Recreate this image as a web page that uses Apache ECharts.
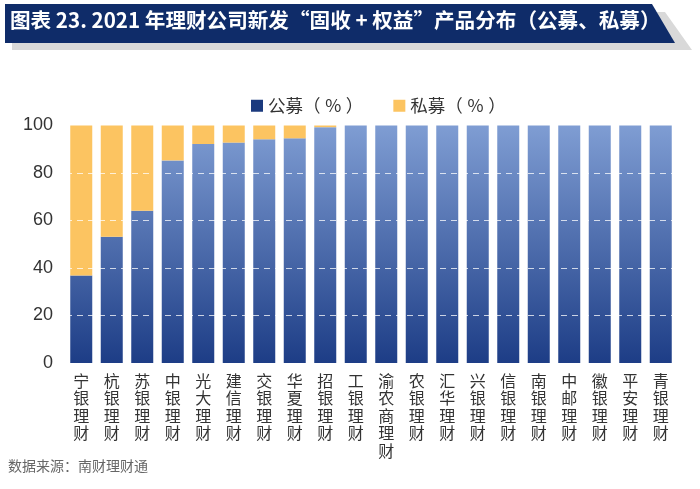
<!DOCTYPE html>
<html>
<head>
<meta charset="utf-8">
<script src="https://cdn.jsdelivr.net/npm/echarts@6/dist/echarts.min.js"></script>
<style>
html,body{margin:0;padding:0;background:#fff;}
#c{width:700px;height:489px;}
</style>
</head>
<body>
<div id="c"></div>
<script>
const categories = ['宁银理财','杭银理财','苏银理财','中银理财','光大理财','建信理财','交银理财','华夏理财','招银理财','工银理财','渝农商理财','农银理财','汇华理财','兴银理财','信银理财','南银理财','中邮理财','徽银理财','平安理财','青银理财'];
const publicPct  = [36.8, 53.2, 64.1, 85.3, 92.2, 92.8, 94.2, 94.6, 99.3, 100, 100, 100, 100, 100, 100, 100, 100, 100, 100, 100];
const privatePct = [63.2, 46.8, 35.9, 14.7, 7.8, 7.2, 5.8, 5.4, 0.7, 0, 0, 0, 0, 0, 0, 0, 0, 0, 0, 0];
const yTicks = [0, 20, 40, 60, 80, 100];
const seriesNames = ['公募（ ％ ）', '私募（ ％ ）'];
const titleText = '图表 23. 2021 年理财公司新发“固收 + 权益”产品分布（公募、私募）';
const sourceText = '数据来源：南财理财通';

const chart = echarts.init(document.getElementById('c'));
const font = "'Noto Sans CJK SC', 'Noto Sans', sans-serif";
const gridTop = 125.5, gridBottom = 363;

chart.setOption({
  animation: false,
  textStyle: { fontFamily: font },
  graphic: [
    { type: 'polygon', z: 1, shape: { points: [[12, 12], [665, 12], [692, 50], [12, 50]] }, style: { fill: '#d9d9d9' } },
    { type: 'polygon', z: 2, shape: { points: [[5, 4], [652, 4], [675, 43], [5, 43]] }, style: { fill: '#0f2c69' } },
    { type: 'text', z: 3, left: 10, top: 10, style: { text: titleText, fill: '#fff', font: "bold 20.6px 'Noto Sans CJK SC'" } },
    { type: 'text', left: 8, top: 459, style: { text: sourceText, fill: '#666', font: "14px 'Noto Sans CJK SC'" } }
  ],
  legend: {
    left: 246, top: 92,
    itemWidth: 12, itemHeight: 12, itemGap: 30,
    icon: 'rect',
    textStyle: { fontSize: 17.5, color: '#333', fontFamily: font },
    data: [
      { name: seriesNames[0], itemStyle: { color: '#1b3a7e' } },
      { name: seriesNames[1], itemStyle: { color: '#fcc461' } }
    ]
  },
  grid: { left: 66, right: 24, top: gridTop, bottom: 489 - gridBottom, containLabel: false },
  xAxis: {
    type: 'category',
    data: categories,
    axisLine: { show: false },
    axisTick: { show: false },
    axisLabel: {
      interval: 0, margin: 9, color: '#333', fontSize: 16, lineHeight: 17.5,
      fontFamily: font,
      formatter: v => v.split('').join('\n')
    }
  },
  yAxis: {
    type: 'value', min: 0, max: 100, interval: 20,
    z: 5,
    axisLine: { show: false },
    axisTick: { show: false },
    axisLabel: { color: '#333', fontSize: 18, margin: 13, fontFamily: "'Liberation Sans', Arial, sans-serif",
      formatter: v => yTicks.includes(v) ? String(v) : '' },
    splitLine: { show: true, showMinLine: false, showMaxLine: false,
      lineStyle: { color: 'rgba(255,255,255,0.75)', type: [6, 5], width: 1.2 } }
  },
  series: [
    {
      name: seriesNames[0], type: 'bar', stack: 'a', barWidth: 22,
      data: publicPct,
      itemStyle: {
        color: new echarts.graphic.LinearGradient(0, gridTop, 0, gridBottom, [
          { offset: 0, color: '#7f9dd3' },
          { offset: 1, color: '#1d3d86' }
        ], true)
      }
    },
    {
      name: seriesNames[1], type: 'bar', stack: 'a', barWidth: 22,
      data: privatePct,
      itemStyle: { color: '#fcc461' }
    }
  ]
});
</script>
</body>
</html>
